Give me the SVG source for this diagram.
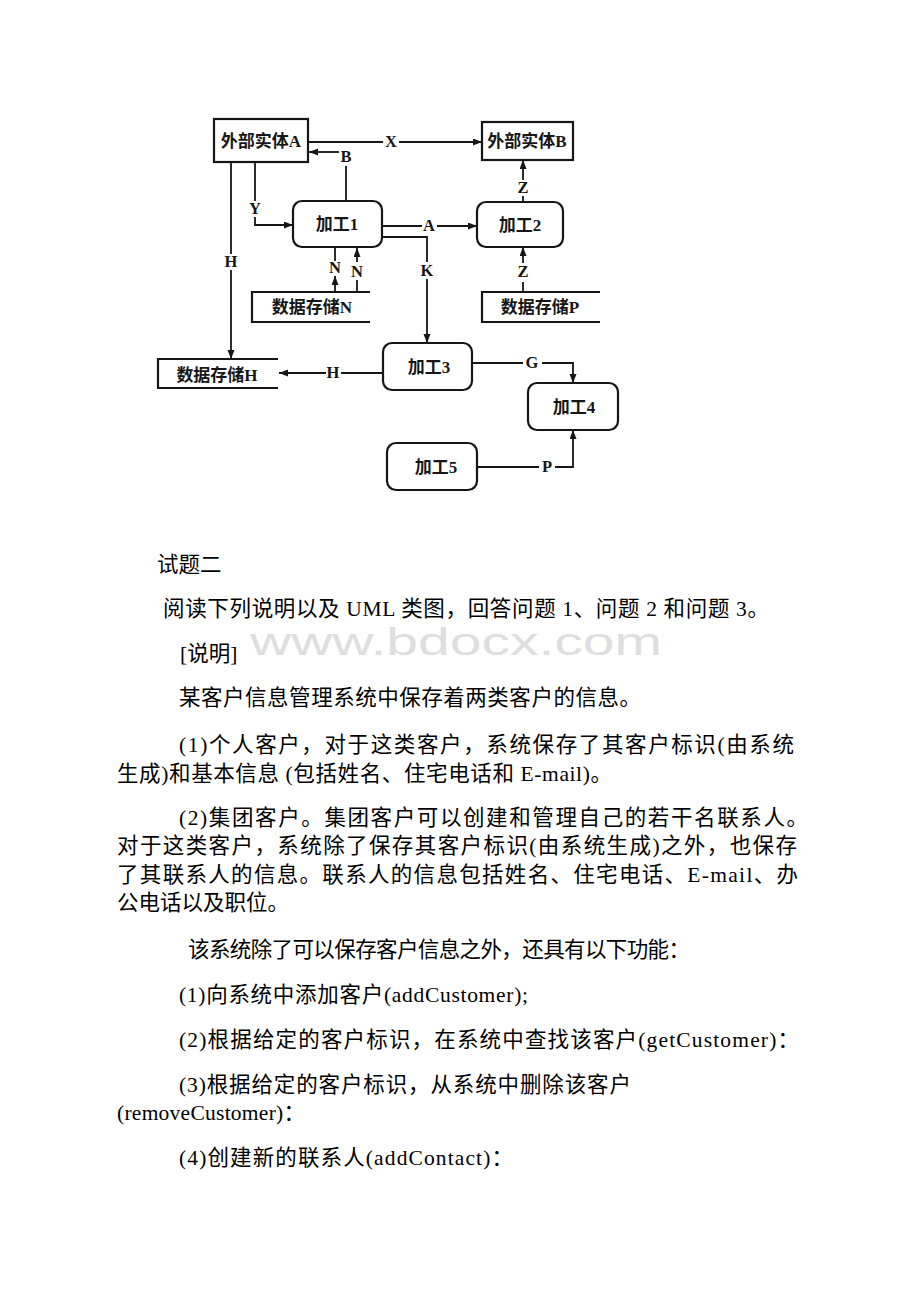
<svg xmlns="http://www.w3.org/2000/svg" width="920" height="1302" viewBox="0 0 920 1302">
<style>
.box{fill:#fff;stroke:#161616;stroke-width:2.2}
.store{fill:none;stroke:#161616;stroke-width:2.2}
.ln{fill:none;stroke:#161616;stroke-width:1.8}
.nt{font-family:"Liberation Serif","Noto Sans CJK SC",serif;font-size:17px;font-weight:bold;fill:#161616;text-anchor:middle}
.lb{font-family:"Liberation Serif","Noto Sans CJK SC",serif;font-size:16.5px;font-weight:bold;fill:#161616;text-anchor:middle}
.tx{font-family:"Liberation Serif","Noto Sans CJK SC",serif;font-size:21.5px;fill:#000}
.wm{font-family:"Liberation Sans",Arial,sans-serif;font-size:38px;fill:#dedede}
</style>
<defs>
<marker id="arr" markerUnits="userSpaceOnUse" markerWidth="10" markerHeight="8" refX="9" refY="3.5" orient="auto">
<path d="M0,0 L9,3.5 L0,7 z" fill="#161616"/>
</marker>
</defs>
<rect width="920" height="1302" fill="#fff"/>

<g id="node-extA"><rect class="box" x="214" y="119" width="94" height="43"/><text class="nt" x="261" y="147">外部实体A</text></g>
<g id="node-extB"><rect class="box" x="482" y="122" width="91" height="38"/><text class="nt" x="527" y="147">外部实体B</text></g>
<g id="node-p1"><rect class="box" x="293" y="201" width="89" height="46" rx="9"/><text class="nt" x="337" y="230">加工1</text></g>
<g id="node-p2"><rect class="box" x="477" y="202" width="86" height="45" rx="9"/><text class="nt" x="520" y="231">加工2</text></g>
<g id="node-p3"><rect class="box" x="383" y="343" width="89" height="47" rx="9"/><text class="nt" x="429" y="373">加工3</text></g>
<g id="node-p4"><rect class="box" x="528" y="383" width="90" height="47" rx="9"/><text class="nt" x="574" y="413">加工4</text></g>
<g id="node-p5"><rect class="box" x="387" y="443" width="90" height="47" rx="9"/><text class="nt" x="436" y="473">加工5</text></g>
<g id="node-storeN"><path class="store" d="M370,292 H252 V322 H370"/><text class="nt" x="312" y="313">数据存储N</text></g>
<g id="node-storeP"><path class="store" d="M600,292 H482 V322 H600"/><text class="nt" x="540" y="313">数据存储P</text></g>
<g id="node-storeH"><path class="store" d="M278,359 H158 V388 H278"/><text class="nt" x="217" y="381">数据存储H</text></g>

<g id="connectors">
<path class="ln" d="M308,142 H383"/><path class="ln" d="M399,142 H482" marker-end="url(#arr)"/>
<path class="ln" d="M346,201 V166"/><path class="ln" d="M339,152 H309" marker-end="url(#arr)"/>
<path class="ln" d="M255,162 V201"/><path class="ln" d="M255,217 V225 H293" marker-end="url(#arr)"/>
<path class="ln" d="M231,162 V254"/><path class="ln" d="M231,270 V359" marker-end="url(#arr)"/>
<path class="ln" d="M335,247 V261"/><path class="ln" d="M335,292 V276" marker-end="url(#arr)"/>
<path class="ln" d="M357,262 V248" marker-end="url(#arr)"/><path class="ln" d="M357,280 V292"/>
<path class="ln" d="M382,226 H422"/><path class="ln" d="M437,226 H477" marker-end="url(#arr)"/>
<path class="ln" d="M382,237 H427 V262"/><path class="ln" d="M427,279 V343" marker-end="url(#arr)"/>
<path class="ln" d="M523,202 V196"/><path class="ln" d="M523,180 V160" marker-end="url(#arr)"/>
<path class="ln" d="M523,292 V282"/><path class="ln" d="M523,263 V247" marker-end="url(#arr)"/>
<path class="ln" d="M383,373 H341"/><path class="ln" d="M326,373 H279" marker-end="url(#arr)"/>
<path class="ln" d="M472,363 H523"/><path class="ln" d="M542,363 H573 V383" marker-end="url(#arr)"/>
<path class="ln" d="M477,467 H539"/><path class="ln" d="M555,467 H573 V430" marker-end="url(#arr)"/>
<text class="lb" x="391" y="147">X</text>
<text class="lb" x="346" y="162">B</text>
<text class="lb" x="255" y="214">Y</text>
<text class="lb" x="231" y="267">H</text>
<text class="lb" x="335" y="273">N</text>
<text class="lb" x="357" y="277">N</text>
<text class="lb" x="429" y="231">A</text>
<text class="lb" x="427" y="276">K</text>
<text class="lb" x="523" y="193">Z</text>
<text class="lb" x="523" y="277">Z</text>
<text class="lb" x="333" y="378">H</text>
<text class="lb" x="532" y="368">G</text>
<text class="lb" x="547" y="472">P</text>
</g>

<g id="watermark"><text class="wm" x="250" y="655" textLength="412" lengthAdjust="spacingAndGlyphs">www.bdocx.com</text></g>

<g id="body-text">
<text class="tx" x="157" y="572">试题二</text>
<text class="tx" x="163" y="616" textLength="606" lengthAdjust="spacing">阅读下列说明以及 UML 类图，回答问题 1、问题 2 和问题 3。</text>
<text class="tx" x="180" y="661">[说明]</text>
<text class="tx" x="179" y="705" textLength="462" lengthAdjust="spacing">某客户信息管理系统中保存着两类客户的信息。</text>
<text class="tx" x="179" y="752" textLength="615" lengthAdjust="spacing">(1)个人客户，对于这类客户，系统保存了其客户标识(由系统</text>
<text class="tx" x="117" y="781" textLength="495" lengthAdjust="spacing">生成)和基本信息 (包括姓名、住宅电话和 E-mail)。</text>
<text class="tx" x="179" y="825" textLength="629" lengthAdjust="spacing">(2)集团客户。集团客户可以创建和管理自己的若干名联系人。</text>
<text class="tx" x="117" y="853" textLength="680" lengthAdjust="spacing">对于这类客户，系统除了保存其客户标识(由系统生成)之外，也保存</text>
<text class="tx" x="117" y="882" textLength="681" lengthAdjust="spacing">了其联系人的信息。联系人的信息包括姓名、住宅电话、E-mail、办</text>
<text class="tx" x="117" y="910">公电话以及职位。</text>
<text class="tx" x="188" y="957" textLength="502" lengthAdjust="spacing">该系统除了可以保存客户信息之外，还具有以下功能：</text>
<text class="tx" x="179" y="1002" textLength="349" lengthAdjust="spacing">(1)向系统中添加客户(addCustomer);</text>
<text class="tx" x="179" y="1047" textLength="620" lengthAdjust="spacing">(2)根据给定的客户标识，在系统中查找该客户(getCustomer)：</text>
<text class="tx" x="179" y="1092" textLength="452" lengthAdjust="spacing">(3)根据给定的客户标识，从系统中删除该客户</text>
<text class="tx" x="117" y="1120" textLength="188" lengthAdjust="spacing">(removeCustomer)：</text>
<text class="tx" x="179" y="1165" textLength="334" lengthAdjust="spacing">(4)创建新的联系人(addContact)：</text>
</g>
</svg>
